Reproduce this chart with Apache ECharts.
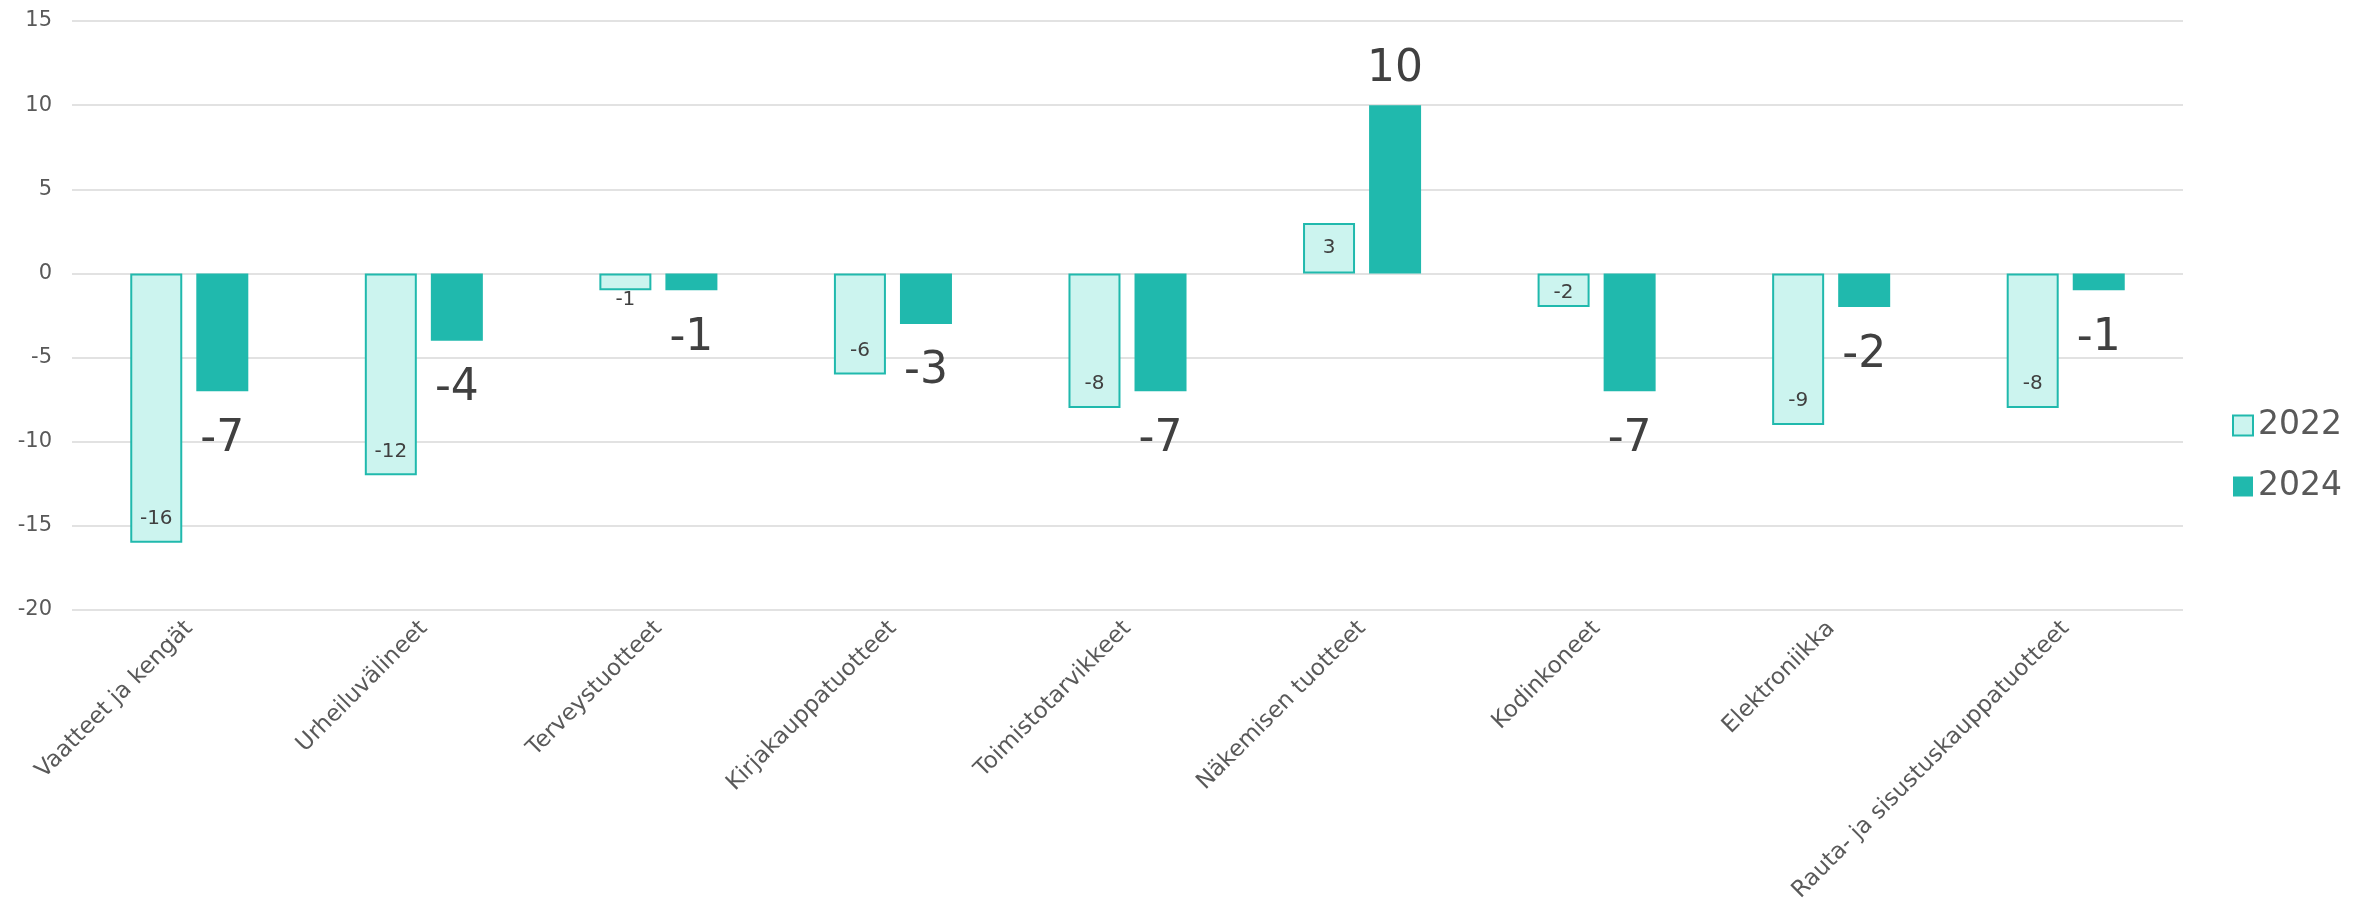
<!DOCTYPE html>
<html>
<head>
<meta charset="utf-8">
<script src="https://cdn.jsdelivr.net/npm/echarts@6/dist/echarts.min.js"></script>
<style>
html,body{margin:0;padding:0;background:#fff;}
#chart{width:2369px;height:901px;}
</style>
</head>
<body>
<div id="chart"></div>
<script>
const categories = ["Vaatteet ja kengät", "Urheiluvälineet", "Terveystuotteet", "Kirjakauppatuotteet", "Toimistotarvikkeet", "Näkemisen tuotteet", "Kodinkoneet", "Elektroniikka", "Rauta- ja sisustuskauppatuotteet"];
const values2022 = [-16, -12, -1, -6, -8, 3, -2, -9, -8];
const values2024 = [-7, -4, -1, -3, -7, 10, -7, -2, -1];
const seriesNames = ["2022", "2024"];
const yTicks = { min: -20, max: 15, interval: 5 };

const FONT = "DejaVu Sans";
const light = "#CCF4EF";
const teal = "#20B9AD";

function label2022(v) {
  if (v > 0) return { position: 'inside' };
  if (v >= -1) return { position: 'bottom', distance: 0 };
  if (v >= -2) return { position: 'insideBottom', distance: 4 };
  return { position: 'insideBottom', distance: 14 };
}
function label2024(v) {
  return v >= 0 ? { position: 'top', distance: 14 } : { position: 'bottom', distance: 26 };
}

const chart = echarts.init(document.getElementById('chart'));
chart.setOption({
  animation: false,
  backgroundColor: '#ffffff',
  grid: { left: 72, right: 186, top: 21, bottom: 291, containLabel: false, outerBoundsMode: 'none' },
  legend: {
    orient: 'vertical',
    left: 2227,
    top: 404,
    itemWidth: 20,
    itemHeight: 20,
    itemGap: 28,
    icon: 'rect',
    textStyle: { fontFamily: FONT, fontSize: 33, color: '#595959' },
    data: seriesNames
  },
  xAxis: {
    type: 'category',
    data: categories,
    axisLine: { show: false },
    axisTick: { show: false },
    axisLabel: { rotate: 45, interval: 0, margin: 15, fontFamily: FONT, fontSize: 23, color: '#595959' }
  },
  yAxis: {
    type: 'value',
    min: yTicks.min, max: yTicks.max, interval: yTicks.interval,
    axisLine: { show: false },
    axisTick: { show: false },
    axisLabel: { margin: 20, fontFamily: FONT, fontSize: 21, color: '#595959' },
    splitLine: { lineStyle: { color: '#D9D9D9', width: 1.5 } }
  },
  series: [
    {
      name: seriesNames[0],
      type: 'bar',
      barWidth: 52,
      barGap: '27%',
      itemStyle: { color: light, borderColor: teal, borderWidth: 2 },
      label: { show: true, fontFamily: FONT, fontSize: 20, color: '#404040' },
      data: values2022.map(v => ({ value: v, label: label2022(v) }))
    },
    {
      name: seriesNames[1],
      type: 'bar',
      barWidth: 52,
      itemStyle: { color: teal },
      label: { show: true, fontFamily: FONT, fontSize: 44, color: '#404040' },
      data: values2024.map(v => ({ value: v, label: label2024(v) }))
    }
  ]
});
</script>
</body>
</html>
